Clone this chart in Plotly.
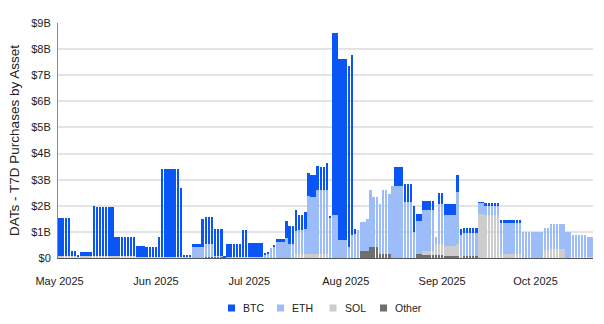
import pandas as pd
import plotly.graph_objects as go

# Daily trailing-7-day purchases by digital asset treasuries, in $B
dates = pd.date_range("2025-05-01", periods=172, freq="D")

btc = [
    1.45, 1.45, 1.45, 1.45, 0.20, 0.20, 0.08, 0.17, 0.17, 0.17,
    0.17, 1.93, 1.88, 1.88, 1.88, 1.88, 1.88, 1.88, 0.74, 0.74,
    0.74, 0.76, 0.76, 0.76, 0.76, 0.43, 0.43, 0.43, 0.39, 0.39,
    0.39, 0.39, 0.77, 3.40, 3.40, 3.40, 3.40, 3.40, 3.40, 2.68,
    0.08, 0.08, 0.08, 0.11, 0.11, 0.11, 1.06, 1.05, 1.05, 1.05,
    1.02, 1.02, 1.02, 0.03, 0.50, 0.50, 0.50, 0.50, 0.50, 1.04,
    1.04, 0.53, 0.53, 0.53, 0.53, 0.53, 0.04, 0.04, 0.00, 0.02,
    0.06, 0.06, 0.06, 0.63, 0.67, 0.67, 0.77, 0.58, 0.58, 0.65,
    0.87, 0.86, 0.86, 0.92, 0.86, 0.86, 1.06, 0.08, 6.95, 6.95,
    6.93, 6.93, 6.93, 6.94, 6.88, 0.18, 0.00, 0.00, 0.00, 0.00,
    0.00, 0.00, 0.00, 0.00, 0.00, 0.00, 0.00, 0.00, 0.73, 0.73,
    0.73, 0.70, 0.70, 0.70, 1.00, 0.30, 0.30, 0.35, 0.35, 0.35,
    0.35, 0.00, 0.43, 0.43, 0.43, 0.43, 0.43, 0.43, 0.64, 0.20,
    0.19, 0.19, 0.19, 0.19, 0.19, 0.02, 0.02, 0.10, 0.10, 0.10,
    0.10, 0.10, 0.12, 0.09, 0.09, 0.09, 0.09, 0.09, 0.09, 0.00,
    0.00, 0.00, 0.00, 0.00, 0.00, 0.00, 0.00, 0.00, 0.00, 0.00,
    0.00, 0.00, 0.00, 0.00, 0.00, 0.00, 0.00, 0.00, 0.00, 0.00,
    0.00, 0.00,
]

eth = [
    0.00, 0.00, 0.00, 0.00, 0.00, 0.00, 0.00, 0.00, 0.00, 0.00,
    0.00, 0.00, 0.00, 0.00, 0.00, 0.00, 0.00, 0.00, 0.00, 0.00,
    0.00, 0.00, 0.00, 0.00, 0.00, 0.00, 0.00, 0.00, 0.00, 0.00,
    0.00, 0.00, 0.00, 0.00, 0.00, 0.00, 0.00, 0.00, 0.00, 0.00,
    0.02, 0.02, 0.02, 0.44, 0.44, 0.44, 0.44, 0.47, 0.47, 0.47,
    0.03, 0.03, 0.03, 0.00, 0.02, 0.02, 0.02, 0.02, 0.02, 0.00,
    0.00, 0.00, 0.00, 0.00, 0.00, 0.00, 0.14, 0.18, 0.40, 0.44,
    0.65, 0.65, 0.65, 0.77, 0.54, 0.54, 0.90, 0.93, 0.93, 0.95,
    2.24, 2.18, 2.18, 2.45, 2.45, 2.45, 2.42, 1.54, 1.65, 1.65,
    0.69, 0.69, 0.69, 0.43, 0.90, 0.92, 1.07, 1.11, 1.11, 1.24,
    2.17, 1.90, 1.90, 1.90, 2.45, 2.45, 2.31, 2.75, 2.75, 2.75,
    2.75, 2.14, 2.14, 2.14, 1.00, 1.26, 1.26, 1.55, 1.55, 1.55,
    1.55, 0.27, 1.51, 1.51, 1.17, 1.17, 1.17, 1.17, 2.00, 0.90,
    0.91, 0.91, 0.91, 0.91, 0.91, 0.42, 0.42, 0.37, 0.37, 0.37,
    0.37, 0.37, 1.18, 1.18, 1.18, 1.18, 1.18, 1.18, 1.18, 0.98,
    0.98, 0.98, 0.98, 0.98, 0.98, 0.98, 0.83, 0.83, 0.96, 0.96,
    0.96, 0.96, 0.96, 1.00, 1.00, 0.85, 0.85, 0.85, 0.85, 0.82,
    0.77, 0.77,
]

sol = [
    0.07, 0.07, 0.07, 0.07, 0.07, 0.07, 0.04, 0.07, 0.07, 0.07,
    0.07, 0.07, 0.07, 0.07, 0.07, 0.07, 0.07, 0.07, 0.06, 0.06,
    0.06, 0.06, 0.06, 0.06, 0.06, 0.04, 0.04, 0.04, 0.03, 0.03,
    0.03, 0.03, 0.03, 0.02, 0.02, 0.02, 0.02, 0.02, 0.02, 0.02,
    0.00, 0.00, 0.00, 0.00, 0.00, 0.00, 0.00, 0.00, 0.00, 0.00,
    0.00, 0.00, 0.00, 0.00, 0.03, 0.03, 0.03, 0.03, 0.03, 0.04,
    0.04, 0.05, 0.05, 0.05, 0.05, 0.05, 0.00, 0.00, 0.00, 0.00,
    0.00, 0.00, 0.00, 0.00, 0.00, 0.00, 0.15, 0.15, 0.15, 0.15,
    0.15, 0.15, 0.15, 0.17, 0.17, 0.17, 0.17, 0.00, 0.00, 0.00,
    0.00, 0.00, 0.00, 0.00, 0.00, 0.00, 0.00, 0.00, 0.00, 0.00,
    0.00, 0.00, 0.00, 0.00, 0.00, 0.00, 0.00, 0.00, 0.00, 0.00,
    0.00, 0.00, 0.00, 0.00, 0.00, 0.00, 0.00, 0.17, 0.17, 0.17,
    0.17, 0.45, 0.45, 0.45, 0.40, 0.40, 0.40, 0.40, 0.46, 0.00,
    0.00, 0.00, 0.00, 0.00, 0.00, 1.70, 1.70, 1.63, 1.63, 1.63,
    1.63, 1.63, 0.17, 0.17, 0.17, 0.17, 0.17, 0.17, 0.17, 0.00,
    0.00, 0.00, 0.00, 0.00, 0.00, 0.00, 0.31, 0.31, 0.34, 0.34,
    0.34, 0.34, 0.34, 0.01, 0.01, 0.05, 0.05, 0.05, 0.05, 0.05,
    0.03, 0.03,
]

other = [
    0.00, 0.00, 0.00, 0.00, 0.00, 0.00, 0.00, 0.00, 0.00, 0.00,
    0.00, 0.00, 0.00, 0.00, 0.00, 0.00, 0.00, 0.00, 0.00, 0.00,
    0.00, 0.00, 0.00, 0.00, 0.00, 0.00, 0.00, 0.00, 0.00, 0.00,
    0.00, 0.00, 0.00, 0.00, 0.00, 0.00, 0.00, 0.00, 0.00, 0.00,
    0.00, 0.00, 0.00, 0.00, 0.00, 0.00, 0.00, 0.05, 0.05, 0.05,
    0.05, 0.05, 0.05, 0.02, 0.00, 0.00, 0.00, 0.00, 0.00, 0.00,
    0.00, 0.00, 0.00, 0.00, 0.00, 0.00, 0.00, 0.00, 0.00, 0.00,
    0.00, 0.00, 0.00, 0.00, 0.00, 0.00, 0.00, 0.00, 0.00, 0.00,
    0.00, 0.00, 0.00, 0.00, 0.00, 0.00, 0.00, 0.00, 0.00, 0.00,
    0.00, 0.00, 0.00, 0.00, 0.00, 0.00, 0.00, 0.26, 0.26, 0.26,
    0.43, 0.43, 0.43, 0.15, 0.15, 0.15, 0.15, 0.00, 0.00, 0.00,
    0.00, 0.00, 0.00, 0.00, 0.00, 0.14, 0.14, 0.10, 0.10, 0.10,
    0.10, 0.10, 0.10, 0.10, 0.06, 0.06, 0.06, 0.06, 0.07, 0.00,
    0.06, 0.06, 0.06, 0.06, 0.06, 0.00, 0.00, 0.00, 0.00, 0.00,
    0.00, 0.00, 0.00, 0.00, 0.00, 0.00, 0.00, 0.00, 0.00, 0.00,
    0.00, 0.00, 0.00, 0.00, 0.00, 0.00, 0.00, 0.00, 0.00, 0.00,
    0.00, 0.00, 0.00, 0.00, 0.00, 0.00, 0.00, 0.00, 0.00, 0.00,
    0.00, 0.00,
]

y_tickvals = [0, 1, 2, 3, 4, 5, 6, 7, 8, 9]
y_ticktext = ["$0", "$1B", "$2B", "$3B", "$4B", "$5B", "$6B", "$7B", "$8B", "$9B"]

FONT = "Liberation Sans, Arial, sans-serif"
W, H = 604, 324
ML, MR, MT, MB = 58, 11, 23, 66
PW, PH = W - ML - MR, H - MT - MB

series = [
    ("Other", other, "#6f6f6f"),
    ("SOL", sol, "#cdcdcd"),
    ("ETH", eth, "#9dbdfa"),
    ("BTC", btc, "#0a55f5"),
]

fig = go.Figure()
# stacked bottom-to-top: Other, SOL, ETH, BTC
for name, vals, color in series:
    fig.add_bar(x=dates, y=vals, name=name, marker_color=color,
                marker_line_width=0, showlegend=False)


def px_x(px):
    return (px - ML) / PW


def px_y(py):
    return (H - MB - py) / PH


# compact legend row under the axis: small square swatch + label
legend_items = [("BTC", "#0a55f5", 228), ("ETH", "#9dbdfa", 277),
                ("SOL", "#cdcdcd", 329.5), ("Other", "#6f6f6f", 380)]
for label, color, left in legend_items:
    fig.add_shape(type="rect", xref="paper", yref="paper",
                  x0=px_x(left), x1=px_x(left + 7),
                  y0=px_y(311.5), y1=px_y(304.5),
                  fillcolor=color, line_width=0)
    fig.add_annotation(text=label, xref="paper", yref="paper",
                       x=px_x(left + 13), y=px_y(308),
                       xanchor="left", yanchor="middle", showarrow=False,
                       font=dict(size=10.5, color="#222222"))

fig.update_layout(
    width=W,
    height=H,
    barmode="stack",
    bargap=0.2,
    plot_bgcolor="white",
    paper_bgcolor="white",
    margin=dict(l=ML, r=MR, t=MT, b=MB, autoexpand=False),
    font=dict(family=FONT, size=11, color="#222222"),
    showlegend=False,
    xaxis=dict(
        type="date",
        range=["2025-04-30 12:00", "2025-10-19 12:00"],
        tick0="2025-05-01",
        dtick="M1",
        tickformat="%b %Y",
        showgrid=False,
        showline=True,
        linecolor="#555555",
        linewidth=1,
        ticks="",
        ticklabelstandoff=13,
    ),
    yaxis=dict(
        range=[0, 9],
        tickvals=y_tickvals,
        ticktext=y_ticktext,
        showgrid=True,
        gridcolor="#e4e4e4",
        gridwidth=1.5,
        zeroline=False,
        showline=True,
        linecolor="#8a8a8a",
        linewidth=1,
        ticks="",
        ticklabelstandoff=4,
        title=dict(text="DATs - T7D Purchases by Asset", font=dict(size=13.5),
                   standoff=8),
    ),
)

fig.write_html("out.html")
